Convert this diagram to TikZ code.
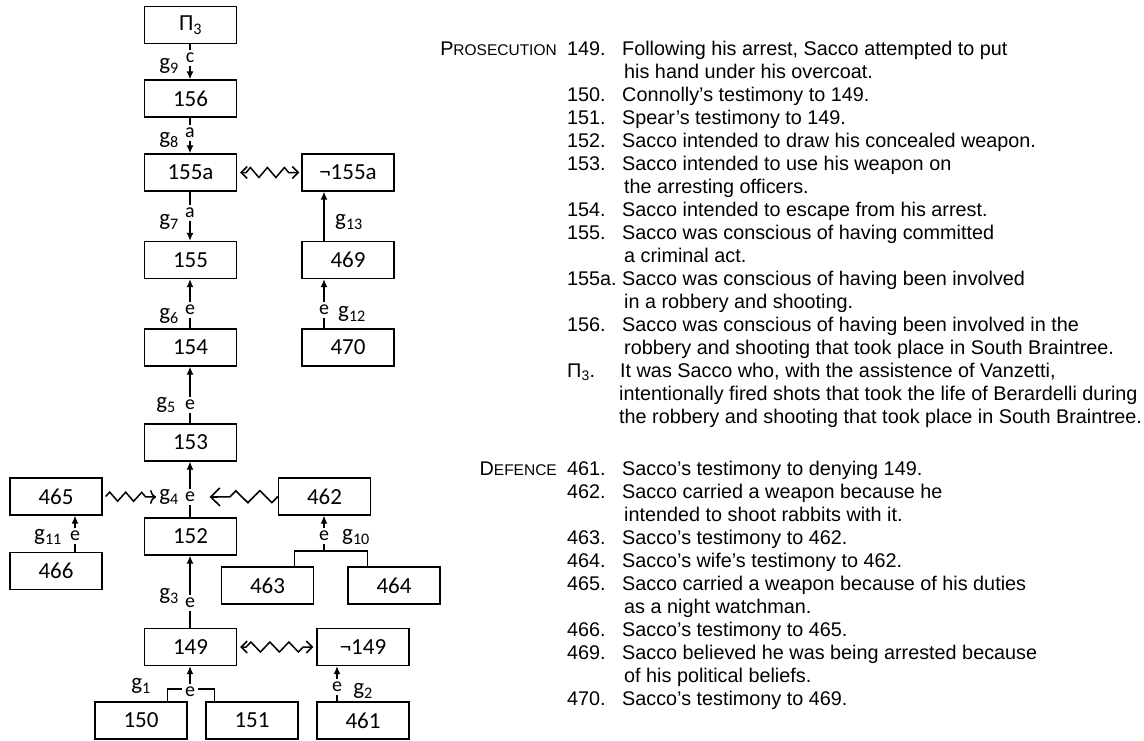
\documentclass[tikz,border=0pt]{standalone}
\usepackage{fontspec}
\setmainfont{Liberation Sans}
\newfontfamily\carl{Carlito}
\usetikzlibrary{arrows.meta,decorations.pathmorphing}
\begin{document}
\begin{tikzpicture}[x=1pt,y=-1pt,
  box/.style={draw, line width=1.3pt, minimum width=92pt, minimum height=37pt, inner sep=0pt, font=\carl\fontsize{23}{23}\selectfont},
  lab/.style={inner sep=2.5pt, font=\carl\fontsize{20}{20}\selectfont},
  glab/.style={inner sep=0pt, font=\carl\fontsize{23}{23}\selectfont},
  sup/.style={line width=1.3pt, -{Latex[length=8pt,width=7pt]}},
  ln/.style={line width=1.3pt},
  conf/.style={line width=1.5pt, decorate, decoration={zigzag, segment length=17pt, amplitude=5pt, pre length=6pt, post length=6pt}},
  txt/.style={anchor=base west, inner sep=0pt, font=\fontsize{19.8}{23}\selectfont},
  side/.style={anchor=base east, inner sep=0pt, font=\fontsize{19.8}{23}\selectfont},
]
\useasboundingbox (0,0) rectangle (1144,740);

% boxes
\node[box] (nP3) at (190.5,25) {Π\textsubscript{3}};
\node[box] (n156) at (190.5,98.5) {156};
\node[box] (n155a) at (190.5,172.5) {155a};
\node[box] (nn155a) at (348,172.5) {¬155a};
\node[box] (n155) at (190.5,260) {155};
\node[box] (n469) at (348,260) {469};
\node[box] (n154) at (190.5,347.5) {154};
\node[box] (n470) at (348,347.5) {470};
\node[box] (n153) at (190.5,442.5) {153};
\node[box] (n465) at (56,496.5) {465};
\node[box] (n462) at (324.5,496.5) {462};
\node[box] (n152) at (190.5,536.5) {152};
\node[box] (n466) at (56,571) {466};
\node[box] (n463) at (267.5,585.5) {463};
\node[box] (n464) at (394,585.5) {464};
\node[box] (n149) at (190.5,647) {149};
\node[box] (nn149) at (363,647) {¬149};
\node[box] (n150) at (141,720.5) {150};
\node[box] (n151) at (252,720.5) {151};
\node[box] (n461) at (363,720.5) {461};

% link labels
\node[lab] (c9) at (190,58) {c};
\node[glab] (g9) at (169,66) {g\textsubscript{9}};
\node[lab] (a8) at (190,133) {a};
\node[glab] (g8) at (169,140) {g\textsubscript{8}};
\node[lab] (a7) at (190,213) {a};
\node[glab] (g7) at (169,222) {g\textsubscript{7}};
\node[lab] (e6) at (190,310) {e};
\node[glab] (g6) at (169,316) {g\textsubscript{6}};
\node[lab] (e12) at (324,310) {e};
\node[glab] (g12) at (352,314) {g\textsubscript{12}};
\node[glab] (g13) at (349,222) {g\textsubscript{13}};
\node[lab] (e5) at (190,405) {e};
\node[glab] (g5) at (166,405) {g\textsubscript{5}};
\node[lab] (e4) at (190,497) {e};
\node[glab] (g4) at (169,497) {g\textsubscript{4}};
\node[lab] (e11) at (75,536) {e};
\node[glab] (g11) at (48,537) {g\textsubscript{11}};
\node[lab] (e10) at (324,536) {e};
\node[glab] (g10) at (356,537) {g\textsubscript{10}};
\node[lab] (e3) at (190,603) {e};
\node[glab] (g3) at (169,596) {g\textsubscript{3}};
\node[lab] (e1) at (190,692) {e};
\node[glab] (g1) at (141,686) {g\textsubscript{1}};
\node[lab] (e2) at (337,687) {e};
\node[glab] (g2) at (363,691) {g\textsubscript{2}};
\coordinate (j10) at (324,551);

% support links
\draw[ln] (nP3.south -| c9) -- (c9.north);
\draw[sup] (c9.south) -- (n156.north -| c9);
\draw[ln] (n156.south -| a8) -- (a8.north);
\draw[sup] (a8.south) -- (n155a.north -| a8);
\draw[ln] (n155a.south -| a7) -- (a7.north);
\draw[sup] (a7.south) -- (n155.north -| a7);
\draw[ln] (n154.north -| e6) -- (e6.south);
\draw[sup] (e6.north) -- (n155.south -| e6);
\draw[ln] (n470.north -| e12) -- (e12.south);
\draw[sup] (e12.north) -- (n469.south -| e12);
\draw[sup] (n469.north -| e12) -- (nn155a.south -| e12);
\draw[ln] (n153.north -| e5) -- (e5.south);
\draw[sup] (e5.north) -- (n154.south -| e5);
\draw[ln] (n152.north -| e4) -- (e4.south);
\draw[sup] (e4.north) -- (n153.south -| e4);
\draw[ln] (n466.north -| e11) -- (e11.south);
\draw[sup] (e11.north) -- (n465.south -| e11);
\draw[ln] ([xshift=-20pt]n463.north east) |- (j10) -| ([xshift=20pt]n464.north west);
\draw[ln] (j10) -- (e10.south);
\draw[sup] (e10.north) -- (n462.south -| e10);
\draw[ln] (n149.north -| e3) -- (e3.south);
\draw[sup] (e3.north) -- (n152.south -| e3);
\draw[ln] ([xshift=-20pt]n150.north east) |- ([yshift=3pt]e1.west);
\draw[ln] ([xshift=9pt]n151.north west) |- ([yshift=3pt]e1.east);
\draw[sup] (e1.north) -- (n149.south -| e1);
\draw[ln] (n461.north -| e2) -- (e2.south);
\draw[sup] (e2.north) -- (nn149.south -| e2);

% conflicts
\draw[conf, {Straight Barb[length=6pt,width=12pt]}-{Straight Barb[length=6pt,width=12pt]}] ([xshift=3pt]n155a.east) -- ([xshift=-2pt]nn155a.west);
\draw[conf, decoration={segment length=19pt, amplitude=5pt}, {Straight Barb[length=6pt,width=12pt]}-{Straight Barb[length=6pt,width=12pt]}] ([xshift=3pt]n149.east) -- ([xshift=-3pt]nn149.west);
\draw[conf, decoration={segment length=16pt, amplitude=4.5pt, pre length=0pt, post length=5pt}, -{Computer Modern Rightarrow[length=6pt,width=14pt]}] ([xshift=3pt]n465.east) -- ([xshift=-3pt]g4.west);
\draw[line width=1.6pt, decorate, decoration={zigzag, segment length=24pt, amplitude=6pt, pre length=0pt, post length=14pt}, -{Straight Barb[length=9pt,width=18pt]}] (n462.west) -- ([xshift=12pt]e4.east);

% text column: prosecution
\node[side] (pros) at (557,55) {P{\fontsize{15.5}{15.5}\selectfont ROSECUTION}};
\node[txt] (p1n) at (567,55) {149.};
\node[txt] (p1t) at (622,55) {Following his arrest, Sacco attempted to put};
\node[txt] (p1c) at (624,78) {his hand under his overcoat.};
\node[txt] (p2n) at (567,101) {150.};
\node[txt] (p2t) at (622,101) {Connolly’s testimony to 149.};
\node[txt] (p3n) at (567,124) {151.};
\node[txt] (p3t) at (622,124) {Spear’s testimony to 149.};
\node[txt] (p4n) at (567,147) {152.};
\node[txt] (p4t) at (622,147) {Sacco intended to draw his concealed weapon.};
\node[txt] (p5n) at (567,170) {153.};
\node[txt] (p5t) at (622,170) {Sacco intended to use his weapon on};
\node[txt] (p5c) at (624,193) {the arresting officers.};
\node[txt] (p6n) at (567,216) {154.};
\node[txt] (p6t) at (622,216) {Sacco intended to escape from his arrest.};
\node[txt] (p7n) at (567,239) {155.};
\node[txt] (p7t) at (622,239) {Sacco was conscious of having committed};
\node[txt] (p7c) at (624,262) {a criminal act.};
\node[txt] (p8n) at (567,285) {155a.};
\node[txt] (p8t) at (622,285) {Sacco was conscious of having been involved};
\node[txt] (p8c) at (624,308) {in a robbery and shooting.};
\node[txt] (p9n) at (567,331) {156.};
\node[txt] (p9t) at (622,331) {Sacco was conscious of having been involved in the};
\node[txt] (p9c) at (624,354) {robbery and shooting that took place in South Braintree.};
\node[txt] (p10n) at (567,377) {Π\textsubscript{3}.};
\node[txt] (p10t) at (620,377) {It was Sacco who, with the assistence of Vanzetti,};
\node[txt] (p10c) at (619,400) {intentionally fired shots that took the life of Berardelli during};
\node[txt] (p10d) at (619,423) {the robbery and shooting that took place in South Braintree.};

% text column: defence
\node[side] (def) at (557,475) {D{\fontsize{15.5}{15.5}\selectfont EFENCE}};
\node[txt] (d1n) at (567,475) {461.};
\node[txt] (d1t) at (622,475) {Sacco’s testimony to denying 149.};
\node[txt] (d2n) at (567,498) {462.};
\node[txt] (d2t) at (622,498) {Sacco carried a weapon because he};
\node[txt] (d2c) at (624,521) {intended to shoot rabbits with it.};
\node[txt] (d3n) at (567,544) {463.};
\node[txt] (d3t) at (622,544) {Sacco’s testimony to 462.};
\node[txt] (d4n) at (567,567) {464.};
\node[txt] (d4t) at (622,567) {Sacco’s wife’s testimony to 462.};
\node[txt] (d5n) at (567,590) {465.};
\node[txt] (d5t) at (622,590) {Sacco carried a weapon because of his duties};
\node[txt] (d5c) at (624,613) {as a night watchman.};
\node[txt] (d6n) at (567,636) {466.};
\node[txt] (d6t) at (622,636) {Sacco’s testimony to 465.};
\node[txt] (d7n) at (567,659) {469.};
\node[txt] (d7t) at (622,659) {Sacco believed he was being arrested because};
\node[txt] (d7c) at (624,682) {of his political beliefs.};
\node[txt] (d8n) at (567,705) {470.};
\node[txt] (d8t) at (622,705) {Sacco’s testimony to 469.};
\end{tikzpicture}
\end{document}
